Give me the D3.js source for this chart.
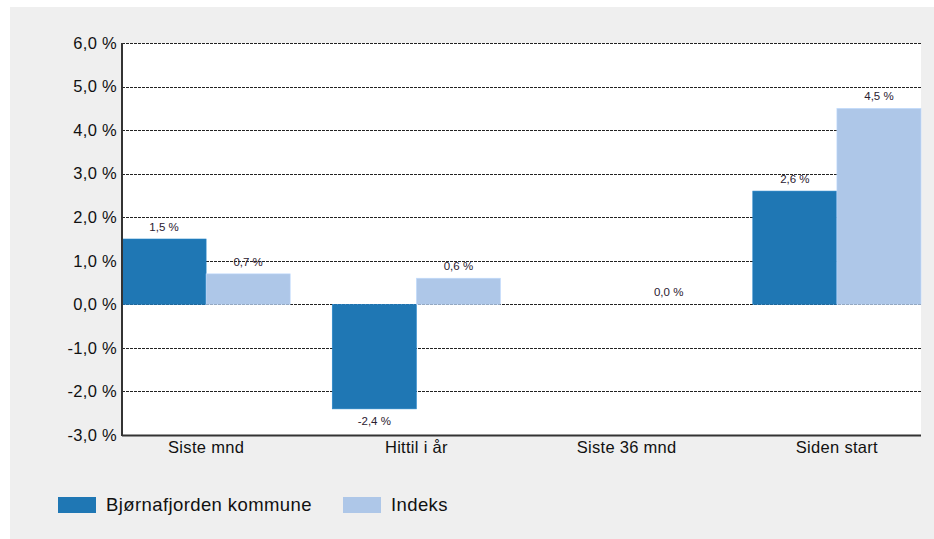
<!DOCTYPE html>
<html>
<head>
<meta charset="utf-8">
<script src="https://cdn.jsdelivr.net/npm/d3@7"></script>
<style>
  body { margin: 0; background: #fff; }
  text { font-family: "Liberation Sans", Arial, sans-serif; }
</style>
</head>
<body>
<div id="chart"></div>
<script>
// Data.
var categories = ["Siste mnd", "Hittil i år", "Siste 36 mnd", "Siden start"];
var seriesNames = ["Bjørnafjorden kommune", "Indeks"];
var kommune = [1.5, -2.4, null, 2.6];
var indeks = [0.7, 0.6, 0.0, 4.5];
var yTicks = [-3, -2, -1, 0, 1, 2, 3, 4, 5, 6];
var colors = ["#1f77b4", "#aec7e8"];

// Dimensions.
var W = 934, H = 539;
var margin = {top: 43, right: 13, bottom: 104, left: 122},
    width = W - margin.left - margin.right,
    height = H - margin.top - margin.bottom;

var root = d3.select("#chart").append("svg")
    .attr("width", W)
    .attr("height", H);

// Gray panel.
root.append("rect")
    .attr("x", 10).attr("y", 7)
    .attr("width", W - 10).attr("height", H - 7)
    .attr("fill", "#efefef");

var svg = root.append("g")
    .attr("transform", "translate(" + margin.left + "," + margin.top + ")");

// Scales.
var x0 = d3.scaleBand().domain(categories).range([0, width]).paddingInner(0.2).paddingOuter(0);
var x1 = d3.scaleBand().domain(seriesNames).range([0, x0.bandwidth()]);
var y = d3.scaleLinear().domain([-3, 6]).range([height, 0]);

// Plot background.
svg.append("rect")
    .attr("width", width).attr("height", height)
    .attr("fill", "#fff");

// Grid lines.
svg.append("g")
    .selectAll("line")
    .data(yTicks)
    .join("line")
    .attr("x1", 0).attr("x2", width)
    .attr("y1", function(d) { return Math.round(y(d)) + 0.5; })
    .attr("y2", function(d) { return Math.round(y(d)) + 0.5; })
    .attr("stroke", "#222")
    .attr("stroke-width", 1)
    .attr("stroke-dasharray", "3,1");

// Bars.
var rows = categories.map(function(c, i) {
    return [
        {cat: c, key: seriesNames[0], value: kommune[i], color: colors[0]},
        {cat: c, key: seriesNames[1], value: indeks[i], color: colors[1]}
    ];
});
var flat = [].concat.apply([], rows).filter(function(d) { return d.value !== null; });

svg.append("g")
    .selectAll("rect")
    .data(flat.filter(function(d) { return d.value !== 0; }))
    .join("rect")
    .attr("x", function(d) { return x0(d.cat) + x1(d.key); })
    .attr("y", function(d) { return y(Math.max(0, d.value)); })
    .attr("width", x1.bandwidth())
    .attr("height", function(d) { return Math.abs(y(d.value) - y(0)); })
    .attr("fill", function(d) { return d.color; })
    .attr("stroke", function(d) { return d3.color(d.color).brighter(0.3); })
    .attr("stroke-width", 0.6);

// Value labels.
var fmt = function(v) { return d3.format(".1f")(v).replace(".", ",").replace("−", "-") + " %"; };
svg.append("g")
    .selectAll("text")
    .data(flat)
    .join("text")
    .attr("x", function(d) { return x0(d.cat) + x1(d.key) + x1.bandwidth() / 2; })
    .attr("y", function(d) { return d.value < 0 ? y(d.value) + 16 : y(d.value) - 8; })
    .attr("text-anchor", "middle")
    .attr("font-size", 11.5)
    .attr("fill", "#2a2030")
    .text(function(d) { return fmt(d.value); });

// Axes.
svg.append("g")
    .selectAll("text")
    .data(yTicks)
    .join("text")
    .attr("x", -5)
    .attr("y", function(d) { return y(d); })
    .attr("dy", "0.35em")
    .attr("text-anchor", "end")
    .attr("font-size", 16.5)
    .attr("letter-spacing", 0.3)
    .attr("fill", "#111")
    .text(function(d) { return fmt(d); });

svg.append("g")
    .selectAll("text")
    .data(categories)
    .join("text")
    .attr("x", function(d) { return x0(d) + x0.bandwidth() / 2; })
    .attr("y", height + 18)
    .attr("text-anchor", "middle")
    .attr("font-size", 16.5)
    .attr("letter-spacing", 0.3)
    .attr("fill", "#111")
    .text(function(d) { return d; });

svg.append("line")
    .attr("x1", 0).attr("x2", 0)
    .attr("y1", 0).attr("y2", height + 1)
    .attr("stroke", "#333").attr("stroke-width", 2);
svg.append("line")
    .attr("x1", 0).attr("x2", width)
    .attr("y1", height + 0.5).attr("y2", height + 0.5)
    .attr("stroke", "#333").attr("stroke-width", 2);

// Legend.
var legendX = [58, 343];
var legend = root.append("g")
    .selectAll("g")
    .data(seriesNames)
    .join("g")
    .attr("transform", function(d, i) { return "translate(" + legendX[i] + ",497)"; });
legend.append("rect")
    .attr("width", 38).attr("height", 16)
    .attr("fill", function(d, i) { return colors[i]; });
legend.append("text")
    .attr("x", 48).attr("y", 8)
    .attr("dy", "0.35em")
    .attr("font-size", 18.5)
    .attr("letter-spacing", 0.4)
    .attr("fill", "#111")
    .text(function(d) { return d; });
</script>
</body>
</html>
